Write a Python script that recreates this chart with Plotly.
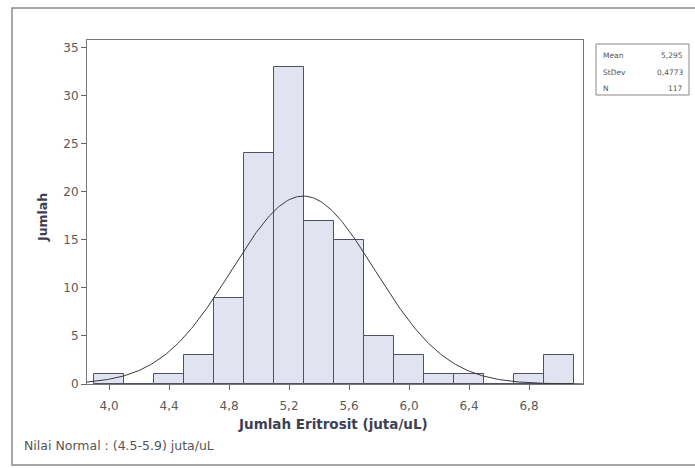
import numpy as np
import plotly.graph_objects as go

# Data
bin_centers = [4.0, 4.2, 4.4, 4.6, 4.8, 5.0, 5.2, 5.4, 5.6, 5.8, 6.0, 6.2, 6.4, 6.6, 6.8, 7.0]
counts      = [1,   0,   1,   3,   9,   24,  33,  17,  15,  5,   3,   1,   1,   0,   1,   3]
bin_width = 0.2
mean_val = 5.295
stdev_val = 0.4773
n_val = 117

x_tickvals = [4.0, 4.4, 4.8, 5.2, 5.6, 6.0, 6.4, 6.8]
x_ticktext = ["4,0", "4,4", "4,8", "5,2", "5,6", "6,0", "6,4", "6,8"]
y_tickvals = [0, 5, 10, 15, 20, 25, 30, 35]

x_range = [3.853, 7.16]
y_range = [0, 35.8]

# fitted normal curve from the displayed statistics
xs = np.linspace(x_range[0], x_range[1], 300)
ys = n_val * bin_width / (stdev_val * np.sqrt(2 * np.pi)) * np.exp(-0.5 * ((xs - mean_val) / stdev_val) ** 2)

fig = go.Figure()
fig.add_trace(go.Bar(
    x=bin_centers, y=counts, width=bin_width,
    marker=dict(color="#e1e3f0", line=dict(color="#4e5064", width=1)),
    hoverinfo="x+y",
))
fig.add_trace(go.Scatter(
    x=xs, y=ys, mode="lines", line=dict(color="#3a3a3a", width=1),
    hoverinfo="skip",
))

L, R, T, B = 87, 583, 40, 384
W, H = 695, 468
pw, ph = R - L, B - T

def px(x):
    return (x - L) / pw

def py(y):
    return (B - y) / ph

FONT = "DejaVu Sans"
tick_font = dict(family=FONT, size=12, color="#5a5a5a")

fig.update_layout(
    width=W, height=H,
    margin=dict(l=L, r=W - R, t=T, b=H - B, pad=0),
    paper_bgcolor="white", plot_bgcolor="white",
    showlegend=False,
    bargap=0,
    xaxis=dict(
        range=x_range, tickvals=x_tickvals, ticktext=x_ticktext,
        ticks="outside", ticklen=5, tickcolor="#666666",
        ticklabelstandoff=6,
        showgrid=False, zeroline=False,
        showline=True, linecolor="#777777", linewidth=1, mirror=True,
        tickfont=tick_font,
    ),
    yaxis=dict(
        range=y_range, tickvals=y_tickvals,
        ticks="outside", ticklen=5, tickcolor="#666666",
        showgrid=False, zeroline=False,
        showline=True, linecolor="#777777", linewidth=1, mirror=True,
        tickfont=tick_font,
    ),
    font=dict(family=FONT),
)

# outer frame
fig.add_shape(type="rect", xref="paper", yref="paper",
              x0=px(12), x1=px(702), y0=py(8), y1=py(465),
              line=dict(color="#8a8a8a", width=1.5), layer="below")
# stats box
bx0, bx1, by0, by1 = 596, 689, 44, 95
fig.add_shape(type="rect", xref="paper", yref="paper",
              x0=px(bx0), x1=px(bx1), y0=py(by0), y1=py(by1),
              line=dict(color="#888888", width=1))

stats_labels = ["Mean", "StDev", "N"]
stats_values = ["5,295", "0,4773", "117"]
row_y = [56, 72, 88]
for lab, val, yy in zip(stats_labels, stats_values, row_y):
    fig.add_annotation(xref="paper", yref="paper", x=px(bx0 + 5), y=py(yy),
                       text=lab, showarrow=False, xanchor="left", yanchor="middle",
                       font=dict(family=FONT, size=7.5, color="#555555"))
    fig.add_annotation(xref="paper", yref="paper", x=px(bx1 - 4), y=py(yy),
                       text=val, showarrow=False, xanchor="right", yanchor="middle",
                       font=dict(family=FONT, size=7.5, color="#555555"))

# axis titles
fig.add_annotation(xref="paper", yref="paper", x=px(333), y=py(424),
                   text="<b>Jumlah Eritrosit (juta/uL)</b>", showarrow=False,
                   xanchor="center", yanchor="middle",
                   font=dict(family=FONT, size=13.5, color="#3d3f55"))
fig.add_annotation(xref="paper", yref="paper", x=px(42), y=py(218),
                   text="<b>Jumlah</b>", showarrow=False, textangle=-90,
                   xanchor="center", yanchor="middle",
                   font=dict(family=FONT, size=12.5, color="#3d3f55"))
# footnote
fig.add_annotation(xref="paper", yref="paper", x=px(22), y=py(446),
                   text="Nilai Normal : (4.5-5.9) juta/uL", showarrow=False,
                   xanchor="left", yanchor="middle",
                   font=dict(family=FONT, size=12.5, color="#555555"))

fig.write_html("out.html")
